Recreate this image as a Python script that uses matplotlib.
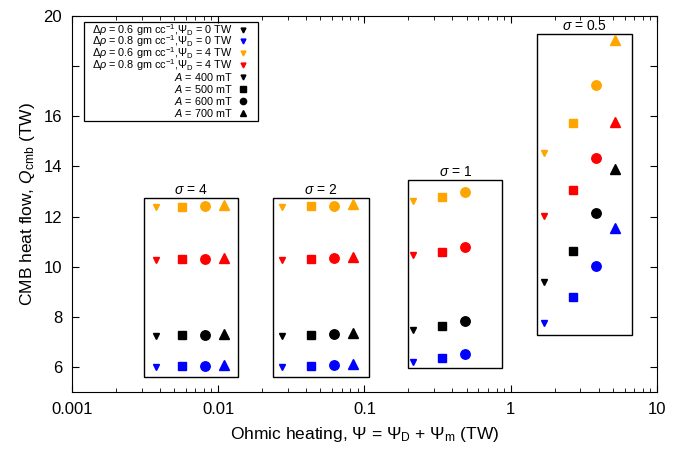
import matplotlib
matplotlib.use('Agg')
import matplotlib.pyplot as plt
from matplotlib.patches import Rectangle

plt.rcParams['font.family'] = ['Liberation Sans', 'DejaVu Sans']
plt.rcParams['mathtext.fontset'] = 'custom'
plt.rcParams['mathtext.rm'] = 'Liberation Sans'
plt.rcParams['mathtext.it'] = 'Liberation Sans:italic'
plt.rcParams['mathtext.bf'] = 'Liberation Sans:bold'

# sigma groups
sigmas = ['4', '2', '1', '0.5']
# ohmic heating Psi (TW) for A = 400, 500, 600, 700 mT, per sigma
psi_s4 = [0.00375, 0.0057, 0.0081, 0.011]
psi_s2 = [0.0274, 0.043, 0.0618, 0.0837]
psi_s1 = [0.216, 0.339, 0.484]
psi_s05 = [1.69, 2.65, 3.81, 5.19]

# CMB heat flow Q_cmb (TW); rows: black, blue, orange, red series
q_s4 = [[7.24, 7.27, 7.27, 7.30],
        [6.00, 6.02, 6.03, 6.07],
        [12.38, 12.40, 12.42, 12.45],
        [10.26, 10.30, 10.30, 10.33]]
q_s2 = [[7.25, 7.29, 7.31, 7.35],
        [6.01, 6.05, 6.06, 6.13],
        [12.39, 12.43, 12.44, 12.50],
        [10.27, 10.31, 10.33, 10.38]]
q_s1 = [[7.47, 7.65, 7.85],
        [6.20, 6.37, 6.52],
        [12.62, 12.79, 12.99],
        [10.47, 10.60, 10.77]]
q_s05 = [[9.39, 10.64, 12.13, 13.91],
         [7.77, 8.80, 10.03, 11.56],
         [14.52, 15.74, 17.25, 19.04],
         [12.03, 13.06, 14.32, 15.78]]

series_labels = [r'$\Delta\rho$ = 0.6 gm cc$^{-1}$,$\Psi_{\rm D}$ = 0 TW',
                 r'$\Delta\rho$ = 0.8 gm cc$^{-1}$,$\Psi_{\rm D}$ = 0 TW',
                 r'$\Delta\rho$ = 0.6 gm cc$^{-1}$,$\Psi_{\rm D}$ = 4 TW',
                 r'$\Delta\rho$ = 0.8 gm cc$^{-1}$,$\Psi_{\rm D}$ = 4 TW']
a_labels = [r'$A$ = 400 mT', r'$A$ = 500 mT', r'$A$ = 600 mT', r'$A$ = 700 mT']

colors = ['black', 'blue', 'orange', 'red']
markers = ['v', 's', 'o', '^']
msizes = [4.0, 5.5, 6.8, 7.8]

psis = [psi_s4, psi_s2, psi_s1, psi_s05]
qs = [q_s4, q_s2, q_s1, q_s05]

# enclosing boxes (x0, x1, y0, y1)
boxes = [(0.00312, 0.01358, 5.61, 12.73),
         (0.0236, 0.107, 5.61, 12.73),
         (0.200, 0.875, 5.97, 13.46),
         (1.52, 6.78, 7.28, 19.28)]

fig = plt.figure(figsize=(6.78, 4.49), dpi=100)
ax = fig.add_axes([0.106, 0.127, 0.863, 0.837])

for psi, q in zip(psis, qs):
    for ci, row in enumerate(q):
        for ai in range(len(psi)):
            ax.plot(psi[ai], row[ai], linestyle='none', marker=markers[ai],
                    ms=msizes[ai], color=colors[ci], mec=colors[ci])

for (x0, x1, y0, y1), s in zip(boxes, sigmas):
    ax.add_patch(Rectangle((x0, y0), x1 - x0, y1 - y0, fill=False,
                           edgecolor='black', linewidth=1.0, zorder=1))
    xc = (x0 * x1) ** 0.5
    ax.text(xc, y1 + 0.06, r'$\sigma$ = ' + s, ha='center', va='bottom',
            fontsize=10)

ax.set_xscale('log')
ax.set_xlim(0.001, 10)
ax.set_ylim(5, 20)
ax.set_xticks([0.001, 0.01, 0.1, 1, 10])
ax.set_xticklabels(['0.001', '0.01', '0.1', '1', '10'])
ax.set_yticks([6, 8, 10, 12, 14, 16, 18, 20])
ax.set_yticklabels(['6', '8', '10', '12', '14', '16', '', '20'])
ax.tick_params(which='both', direction='in', top=True, right=True,
               labelsize=12, pad=7)
ax.tick_params(which='major', length=5)
ax.tick_params(which='minor', length=3)
ax.tick_params(axis='y', which='minor', left=False, right=False)

ax.set_xlabel(r'Ohmic heating, $\Psi$ = $\Psi_{\rm D}$ + $\Psi_{\rm m}$ (TW)',
              fontsize=12.5, labelpad=6)
ax.set_ylabel(r'CMB heat flow, $Q_{\rm cmb}$ (TW)', fontsize=12.5, labelpad=5)

# legend, drawn by hand so rows stay evenly spaced
ax.add_patch(Rectangle((0.0205, 0.721), 0.2975, 0.263, transform=ax.transAxes,
                       fill=False, edgecolor='black', linewidth=0.9, zorder=3))
row_y = [0.963, 0.933, 0.902, 0.871, 0.839, 0.806, 0.773, 0.741]
leg_labels = series_labels + a_labels
leg_colors = colors + ['black'] * 4
leg_markers = ['v'] * 4 + markers
leg_ms = [3.5, 3.5, 3.5, 3.5, 3.5, 4.2, 4.5, 4.2]
for y, lab, c, m, ms in zip(row_y, leg_labels, leg_colors, leg_markers, leg_ms):
    ax.text(0.275, y, lab, transform=ax.transAxes, ha='right', va='center',
            fontsize=7.8)
    ax.plot(0.293, y, transform=ax.transAxes, linestyle='none', marker=m,
            ms=ms, color=c)

fig.savefig('out.png', dpi=100)
